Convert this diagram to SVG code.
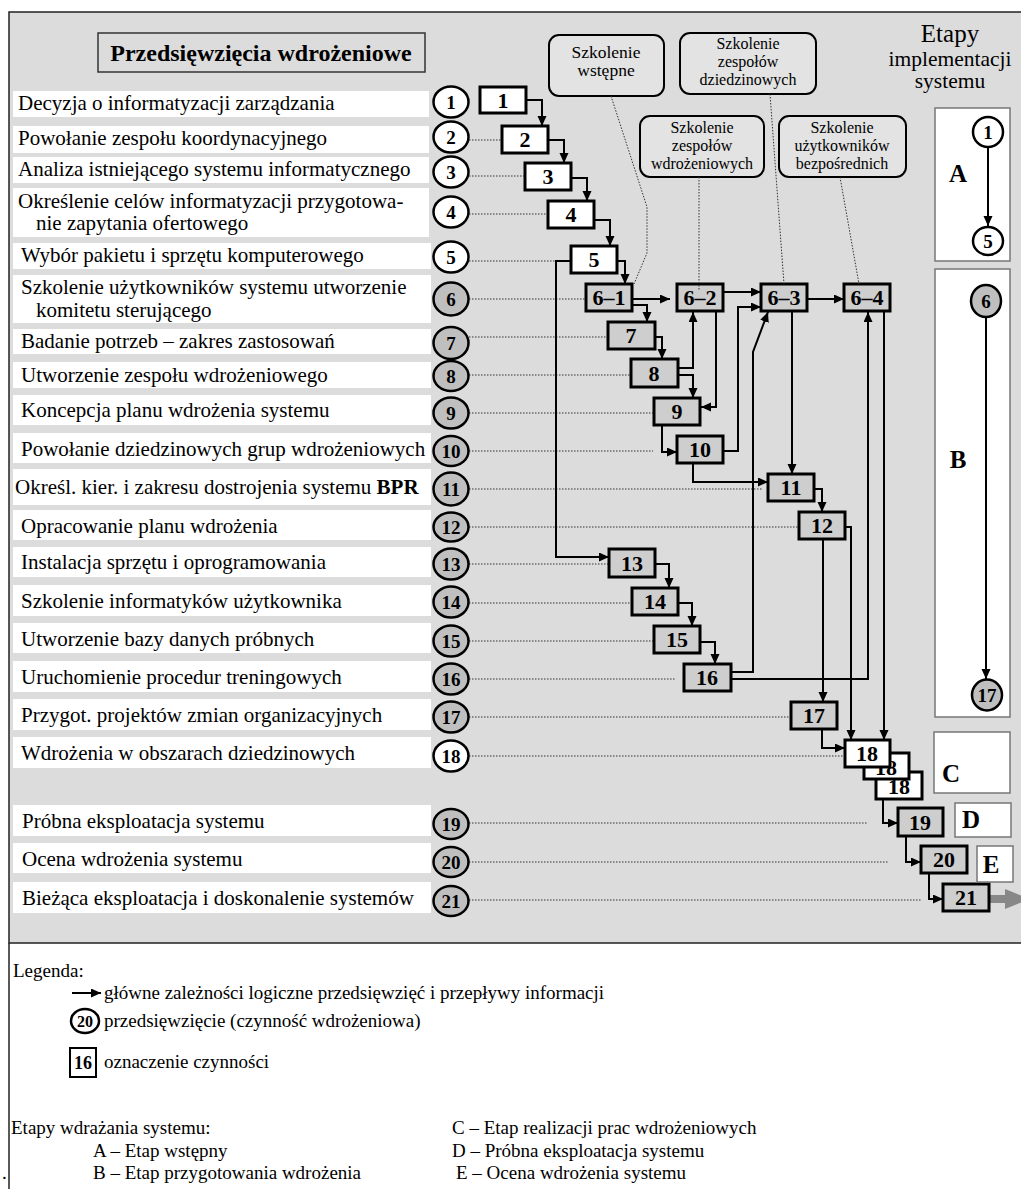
<svg xmlns="http://www.w3.org/2000/svg" width="1021" height="1189" viewBox="0 0 1021 1189">
  <style>
    text { font-family: "Liberation Serif", "Times New Roman", serif; fill: #000; }
    .lbl { fill: #fff; stroke: none; }
    .lt { font-size: 21px; }
    .cw { fill: #fff; stroke: #000; stroke-width: 2.5; }
    .cg { fill: #bfbfbf; stroke: #000; stroke-width: 2.5; }
    .cn { font-size: 19px; font-weight: bold; text-anchor: middle; }
    .bw { fill: #fff; stroke: #000; stroke-width: 3; }
    .bg { fill: #cecece; stroke: #000; stroke-width: 3; }
    .bn { font-size: 22px; font-weight: bold; text-anchor: middle; }
    .dot { stroke: #333; stroke-width: 1; stroke-dasharray: 1.5 1.5; fill: none; }
    .con path { fill: none; stroke: #000; stroke-width: 2; marker-end: url(#ah); }
    .call { fill: #e3e3e3; stroke: #000; stroke-width: 2; }
    .ct { font-size: 17.5px; text-anchor: middle; }
    .ct3 { font-size: 16px; text-anchor: middle; }
    .stage { fill: #fff; stroke: #777; stroke-width: 1.5; }
    .sl { font-size: 25px; font-weight: bold; text-anchor: middle; }
    .leg { font-size: 19px; }
  </style>
  <defs>
    <marker id="ah" markerUnits="userSpaceOnUse" markerWidth="11" markerHeight="10" refX="10" refY="4.5" orient="auto">
      <path d="M0,0 L10,4.5 L0,9 z" fill="#000"/>
    </marker>
  </defs>

  <!-- frame -->
  <rect x="9" y="12" width="1020" height="931" fill="#dcdcdc" stroke="#222" stroke-width="1.5"/>
  <line x1="9" y1="943" x2="9" y2="1189" stroke="#222" stroke-width="1.5"/>

  <!-- title -->
  <g id="title">
    <rect x="98" y="33" width="327" height="39" fill="none" stroke="#333" stroke-width="1.5"/>
    <text x="261" y="61" font-size="24" font-weight="bold" text-anchor="middle">Przedsięwzięcia wdrożeniowe</text>
  </g>

  <!-- stage heading -->
  <g id="stage-heading">
    <text x="950" y="42" font-size="25" text-anchor="middle">Etapy</text>
    <text x="950" y="66" font-size="21.5" text-anchor="middle">implementacji</text>
    <text x="950" y="88" font-size="21.5" text-anchor="middle">systemu</text>
  </g>

  <!-- dotted row leaders -->
  <g id="row-leaders" class="dot">
    <line x1="469" y1="140" x2="502" y2="140"/>
    <line x1="469" y1="176" x2="525" y2="176"/>
    <line x1="469" y1="214" x2="548" y2="214"/>
    <line x1="469" y1="261" x2="571" y2="261"/>
    <line x1="469" y1="299" x2="586" y2="299"/>
    <line x1="469" y1="337" x2="608" y2="337"/>
    <line x1="469" y1="375" x2="631" y2="375"/>
    <line x1="469" y1="413" x2="654" y2="413"/>
    <line x1="469" y1="451" x2="653" y2="451"/>
    <line x1="469" y1="489" x2="762" y2="489"/>
    <line x1="469" y1="527" x2="799" y2="527"/>
    <line x1="469" y1="564" x2="609" y2="564"/>
    <line x1="469" y1="603" x2="632" y2="603"/>
    <line x1="469" y1="641" x2="654" y2="641"/>
    <line x1="469" y1="679" x2="676" y2="679"/>
    <line x1="469" y1="717" x2="791" y2="717"/>
    <line x1="469" y1="756" x2="845" y2="756"/>
    <line x1="469" y1="823" x2="868" y2="823"/>
    <line x1="469" y1="862" x2="889" y2="862"/>
    <line x1="469" y1="900" x2="922" y2="900"/>
  </g>

  <!-- rows: label + undertaking circle -->
  <g id="row1"><rect class="lbl" x="13" y="91" width="416" height="26"/><text class="lt" x="18" y="110">Decyzja o informatyzacji zarządzania</text><ellipse class="cw" cx="451" cy="102" rx="17.5" ry="15.5"/><text class="cn" x="451" y="109">1</text></g>
  <g id="row2"><rect class="lbl" x="13" y="126" width="416" height="27"/><text class="lt" x="18" y="145">Powołanie zespołu koordynacyjnego</text><ellipse class="cw" cx="451" cy="137" rx="17.5" ry="15.5"/><text class="cn" x="451" y="144">2</text></g>
  <g id="row3"><rect class="lbl" x="13" y="157" width="416" height="26"/><text class="lt" x="18" y="176">Analiza istniejącego systemu informatycznego</text><ellipse class="cw" cx="451" cy="172" rx="17.5" ry="15.5"/><text class="cn" x="451" y="179">3</text></g>
  <g id="row4"><rect class="lbl" x="13" y="188" width="416" height="49"/><text class="lt" x="18" y="208">Określenie celów informatyzacji przygotowa-</text><text class="lt" x="36" y="230">nie zapytania  ofertowego</text><ellipse class="cw" cx="451" cy="212" rx="17.5" ry="15.5"/><text class="cn" x="451" y="219">4</text></g>
  <g id="row5"><rect class="lbl" x="13" y="243" width="418" height="26"/><text class="lt" x="21" y="262">Wybór pakietu i sprzętu komputerowego</text><ellipse class="cw" cx="451" cy="257" rx="17.5" ry="15.5"/><text class="cn" x="451" y="264">5</text></g>
  <g id="row6"><rect class="lbl" x="13" y="275" width="418" height="48"/><text class="lt" x="21" y="294">Szkolenie użytkowników systemu  utworzenie</text><text class="lt" x="36" y="317">komitetu sterującego</text><ellipse class="cg" cx="451" cy="299" rx="17.5" ry="16.5"/><text class="cn" x="451" y="306">6</text></g>
  <g id="row7"><rect class="lbl" x="13" y="329" width="418" height="25"/><text class="lt" x="21" y="348">Badanie potrzeb – zakres zastosowań</text><ellipse class="cg" cx="451" cy="343" rx="17.5" ry="16"/><text class="cn" x="451" y="350">7</text></g>
  <g id="row8"><rect class="lbl" x="13" y="362" width="418" height="26"/><text class="lt" x="21" y="382">Utworzenie zespołu wdrożeniowego</text><ellipse class="cg" cx="451" cy="376" rx="17.5" ry="15"/><text class="cn" x="451" y="383">8</text></g>
  <g id="row9"><rect class="lbl" x="13" y="395" width="418" height="30"/><text class="lt" x="21" y="417">Koncepcja planu wdrożenia systemu</text><ellipse class="cg" cx="451" cy="413" rx="17.5" ry="15.5"/><text class="cn" x="451" y="420">9</text></g>
  <g id="row10"><rect class="lbl" x="13" y="433" width="418" height="30"/><text class="lt" x="21" y="456">Powołanie dziedzinowych grup wdrożeniowych</text><ellipse class="cg" cx="451" cy="451" rx="17.5" ry="15"/><text class="cn" x="451" y="458">10</text></g>
  <g id="row11"><rect class="lbl" x="13" y="469" width="418" height="36"/><text class="lt" x="15" y="494">Określ. kier. i zakresu dostrojenia systemu <tspan font-weight="bold">BPR</tspan></text><ellipse class="cg" cx="451" cy="489" rx="17.5" ry="16.5"/><text class="cn" x="451" y="496">11</text></g>
  <g id="row12"><rect class="lbl" x="13" y="510" width="418" height="30"/><text class="lt" x="21" y="533">Opracowanie planu wdrożenia</text><ellipse class="cg" cx="451" cy="527" rx="17.5" ry="14.5"/><text class="cn" x="451" y="534">12</text></g>
  <g id="row13"><rect class="lbl" x="13" y="547" width="418" height="30"/><text class="lt" x="21" y="569">Instalacja sprzętu i oprogramowania</text><ellipse class="cg" cx="451" cy="564" rx="17.5" ry="15.5"/><text class="cn" x="451" y="571">13</text></g>
  <g id="row14"><rect class="lbl" x="13" y="585" width="418" height="31"/><text class="lt" x="21" y="608">Szkolenie informatyków użytkownika</text><ellipse class="cg" cx="451" cy="602" rx="17.5" ry="15.5"/><text class="cn" x="451" y="609">14</text></g>
  <g id="row15"><rect class="lbl" x="13" y="623" width="418" height="30"/><text class="lt" x="21" y="646">Utworzenie bazy danych próbnych</text><ellipse class="cg" cx="451" cy="641" rx="17.5" ry="15.5"/><text class="cn" x="451" y="648">15</text></g>
  <g id="row16"><rect class="lbl" x="13" y="661" width="418" height="31"/><text class="lt" x="21" y="684">Uruchomienie procedur treningowych</text><ellipse class="cg" cx="451" cy="679" rx="17.5" ry="15.5"/><text class="cn" x="451" y="686">16</text></g>
  <g id="row17"><rect class="lbl" x="13" y="699" width="418" height="31"/><text class="lt" x="21" y="722">Przygot. projektów zmian organizacyjnych</text><ellipse class="cg" cx="451" cy="717" rx="17.5" ry="15.5"/><text class="cn" x="451" y="724">17</text></g>
  <g id="row18"><rect class="lbl" x="13" y="737" width="418" height="31"/><text class="lt" x="21" y="760">Wdrożenia w  obszarach  dziedzinowych</text><ellipse class="cw" cx="451" cy="756" rx="17.5" ry="15.5"/><text class="cn" x="451" y="763">18</text></g>
  <g id="row19"><rect class="lbl" x="13" y="805" width="418" height="31"/><text class="lt" x="22" y="828">Próbna eksploatacja systemu</text><ellipse class="cg" cx="451" cy="824" rx="17.5" ry="15"/><text class="cn" x="451" y="831">19</text></g>
  <g id="row20"><rect class="lbl" x="13" y="843" width="418" height="30"/><text class="lt" x="22" y="866">Ocena wdrożenia systemu</text><ellipse class="cg" cx="451" cy="862" rx="17.5" ry="15"/><text class="cn" x="451" y="869">20</text></g>
  <g id="row21"><rect class="lbl" x="13" y="882" width="418" height="31"/><text class="lt" x="22" y="905">Bieżąca eksploatacja i doskonalenie systemów</text><ellipse class="cg" cx="451" cy="901" rx="17.5" ry="15"/><text class="cn" x="451" y="908">21</text></g>

  <!-- connectors -->
  <g id="connectors" class="con">
    <path d="M526,100 H542 V126"/>
    <path d="M548,140 H564 V163"/>
    <path d="M571,178 H587 V201"/>
    <path d="M594,220 H610 V246"/>
    <path d="M617,261 H625 V284"/>
    <path d="M571,261 H556 V557 H609"/>
    <path d="M632,299 H670"/>
    <path d="M632,305 H647 V322"/>
    <path d="M655,337 H662 V359"/>
    <path d="M678,368 H693 V312"/>
    <path d="M678,375 H693 V398"/>
    <path d="M716,311 V407 H701"/>
    <path d="M662,425 V452 H677"/>
    <path d="M723,451 H738 V307 H761"/>
    <path d="M723,292 H761"/>
    <path d="M807,299 H844"/>
    <path d="M731,672 H753 V352 L768,312"/>
    <path d="M731,679 H868 V312"/>
    <path d="M884,311 V740"/>
    <path d="M792,311 V474"/>
    <path d="M693,463 V482 H768"/>
    <path d="M814,489 H822 V512"/>
    <path d="M845,527 H851 V740"/>
    <path d="M823,539 V702"/>
    <path d="M655,564 H669 V588"/>
    <path d="M678,603 H692 V626"/>
    <path d="M700,642 H715 V664"/>
    <path d="M822,729 V748 H845"/>
    <path d="M883,799 V823 H898"/>
    <path d="M906,836 V862 H921"/>
    <path d="M929,873 V899 H943"/>
    <polygon points="989,895 1005,895 1005,889 1030,899 1005,909 1005,903 989,903" fill="#888" stroke="none"/>
  </g>

  <!-- activity boxes -->
  <g id="act1"><rect class="bw" x="480" y="87" width="46" height="26"/><text class="bn" x="503" y="108">1</text></g>
  <g id="act2"><rect class="bw" x="502" y="126" width="46" height="27"/><text class="bn" x="525" y="147">2</text></g>
  <g id="act3"><rect class="bw" x="525" y="163" width="46" height="27"/><text class="bn" x="548" y="184">3</text></g>
  <g id="act4"><rect class="bw" x="548" y="201" width="46" height="27"/><text class="bn" x="571" y="222">4</text></g>
  <g id="act5"><rect class="bw" x="571" y="246" width="46" height="27"/><text class="bn" x="594" y="267">5</text></g>
  <g id="act6-1"><rect class="bg" x="586" y="284" width="46" height="27"/><text class="bn" x="609" y="305">6–1</text></g>
  <g id="act6-2"><rect class="bg" x="677" y="284" width="46" height="27"/><text class="bn" x="700" y="305">6–2</text></g>
  <g id="act6-3"><rect class="bg" x="761" y="284" width="46" height="27"/><text class="bn" x="784" y="305">6–3</text></g>
  <g id="act6-4"><rect class="bg" x="844" y="284" width="46" height="27"/><text class="bn" x="867" y="305">6–4</text></g>
  <g id="act7"><rect class="bg" x="608" y="322" width="47" height="27"/><text class="bn" x="631" y="343">7</text></g>
  <g id="act8"><rect class="bg" x="631" y="359" width="47" height="28"/><text class="bn" x="654" y="381">8</text></g>
  <g id="act9"><rect class="bg" x="654" y="398" width="46" height="27"/><text class="bn" x="677" y="419">9</text></g>
  <g id="act10"><rect class="bg" x="677" y="436" width="46" height="27"/><text class="bn" x="700" y="457">10</text></g>
  <g id="act11"><rect class="bg" x="768" y="474" width="46" height="27"/><text class="bn" x="791" y="495">11</text></g>
  <g id="act12"><rect class="bg" x="799" y="512" width="46" height="27"/><text class="bn" x="822" y="533">12</text></g>
  <g id="act13"><rect class="bg" x="609" y="549" width="46" height="28"/><text class="bn" x="632" y="571">13</text></g>
  <g id="act14"><rect class="bg" x="632" y="588" width="46" height="27"/><text class="bn" x="655" y="609">14</text></g>
  <g id="act15"><rect class="bg" x="654" y="626" width="46" height="27"/><text class="bn" x="677" y="647">15</text></g>
  <g id="act16"><rect class="bg" x="684" y="664" width="47" height="27"/><text class="bn" x="707" y="685">16</text></g>
  <g id="act17"><rect class="bg" x="791" y="702" width="46" height="27"/><text class="bn" x="814" y="723">17</text></g>
  <g id="act18">
    <rect class="bw" x="876" y="772" width="46" height="27"/><text class="bn" x="899" y="794">18</text>
    <rect class="bw" x="864" y="753" width="45" height="26"/><text class="bn" x="886" y="775">18</text>
    <rect class="bw" x="845" y="740" width="45" height="27"/><text class="bn" x="867" y="761">18</text>
  </g>
  <g id="act19"><rect class="bg" x="898" y="808" width="45" height="28"/><text class="bn" x="920" y="830">19</text></g>
  <g id="act20"><rect class="bg" x="921" y="846" width="46" height="27"/><text class="bn" x="944" y="867">20</text></g>
  <g id="act21"><rect class="bg" x="943" y="884" width="46" height="27"/><text class="bn" x="966" y="905">21</text></g>

  <!-- training callouts -->
  <g id="train-intro">
    <rect class="call" x="549" y="35" width="115" height="61" rx="10"/>
    <text class="ct" x="606" y="58">Szkolenie</text><text class="ct" x="606" y="76">wstępne</text>
    <polyline class="dot" points="611,96 647,207 647,253 634,284"/>
  </g>
  <g id="train-domain">
    <rect class="call" x="680" y="33" width="136" height="61" rx="10"/>
    <text class="ct3" x="748" y="49">Szkolenie</text><text class="ct3" x="748" y="67">zespołów</text><text class="ct3" x="748" y="85">dziedzinowych</text>
    <line class="dot" x1="770" y1="94" x2="784" y2="284"/>
  </g>
  <g id="train-impl">
    <rect class="call" x="640" y="116" width="124" height="61" rx="10"/>
    <text class="ct3" x="702" y="133">Szkolenie</text><text class="ct3" x="702" y="151">zespołów</text><text class="ct3" x="702" y="169">wdrożeniowych</text>
    <line class="dot" x1="699" y1="177" x2="699" y2="291"/>
  </g>
  <g id="train-users">
    <rect class="call" x="779" y="116" width="127" height="61" rx="10"/>
    <text class="ct3" x="842" y="133">Szkolenie</text><text class="ct3" x="842" y="151">użytkowników</text><text class="ct3" x="842" y="169">bezpośrednich</text>
    <line class="dot" x1="840" y1="177" x2="859" y2="284"/>
  </g>

  <!-- implementation stages -->
  <g id="stageA">
    <rect class="stage" x="935" y="108" width="75" height="153"/>
    <text class="sl" x="958" y="182">A</text>
    <line x1="988" y1="147" x2="988" y2="226" stroke="#000" stroke-width="2" marker-end="url(#ah)"/>
    <ellipse class="cw" cx="988" cy="132" rx="15" ry="15"/><text class="cn" x="988" y="139">1</text>
    <ellipse class="cw" cx="988" cy="241" rx="15" ry="14"/><text class="cn" x="988" y="248">5</text>
  </g>
  <g id="stageB">
    <rect class="stage" x="935" y="269" width="75" height="448"/>
    <text class="sl" x="958" y="468">B</text>
    <line x1="986" y1="317" x2="986" y2="679" stroke="#000" stroke-width="2" marker-end="url(#ah)"/>
    <ellipse class="cg" cx="986" cy="301" rx="15" ry="16"/><text class="cn" x="986" y="308">6</text>
    <ellipse class="cg" cx="987" cy="695" rx="15" ry="15.5"/><text class="cn" x="987" y="702">17</text>
  </g>
  <g id="stageC"><rect class="stage" x="934" y="732" width="76" height="61"/><text class="sl" x="951" y="782">C</text></g>
  <g id="stageD"><rect class="stage" x="955" y="803" width="56" height="34"/><text class="sl" x="971" y="828">D</text></g>
  <g id="stageE"><rect class="stage" x="977" y="846" width="36" height="36"/><text class="sl" x="991" y="873">E</text></g>

  <!-- legend -->
  <g id="legend">
    <text class="leg" x="13" y="977">Legenda:</text>
    <line x1="72" y1="993" x2="101" y2="993" stroke="#000" stroke-width="2" marker-end="url(#ah)"/>
    <text class="leg" x="104" y="999">główne zależności logiczne przedsięwzięć i przepływy informacji</text>
    <ellipse class="cw" cx="85" cy="1021" rx="14" ry="12"/>
    <text x="85" y="1027" font-size="16" font-weight="bold" text-anchor="middle">20</text>
    <text class="leg" x="104" y="1027">przedsięwzięcie (czynność wdrożeniowa)</text>
    <rect x="70" y="1048" width="26" height="29" fill="#fff" stroke="#000" stroke-width="2"/>
    <text x="83" y="1069" font-size="18" font-weight="bold" text-anchor="middle">16</text>
    <text class="leg" x="104" y="1068">oznaczenie czynności</text>
    <text class="leg" x="11" y="1134">Etapy wdrażania systemu:</text>
    <text class="leg" x="93" y="1157">A – Etap wstępny</text>
    <text class="leg" x="93" y="1179">B – Etap przygotowania wdrożenia</text>
    <text class="leg" x="452" y="1134">C – Etap realizacji prac wdrożeniowych</text>
    <text class="leg" x="452" y="1157">D – Próbna eksploatacja systemu</text>
    <text class="leg" x="456" y="1179">E – Ocena wdrożenia systemu</text>
    <text class="leg" x="2" y="1179">.</text>
  </g>
</svg>
